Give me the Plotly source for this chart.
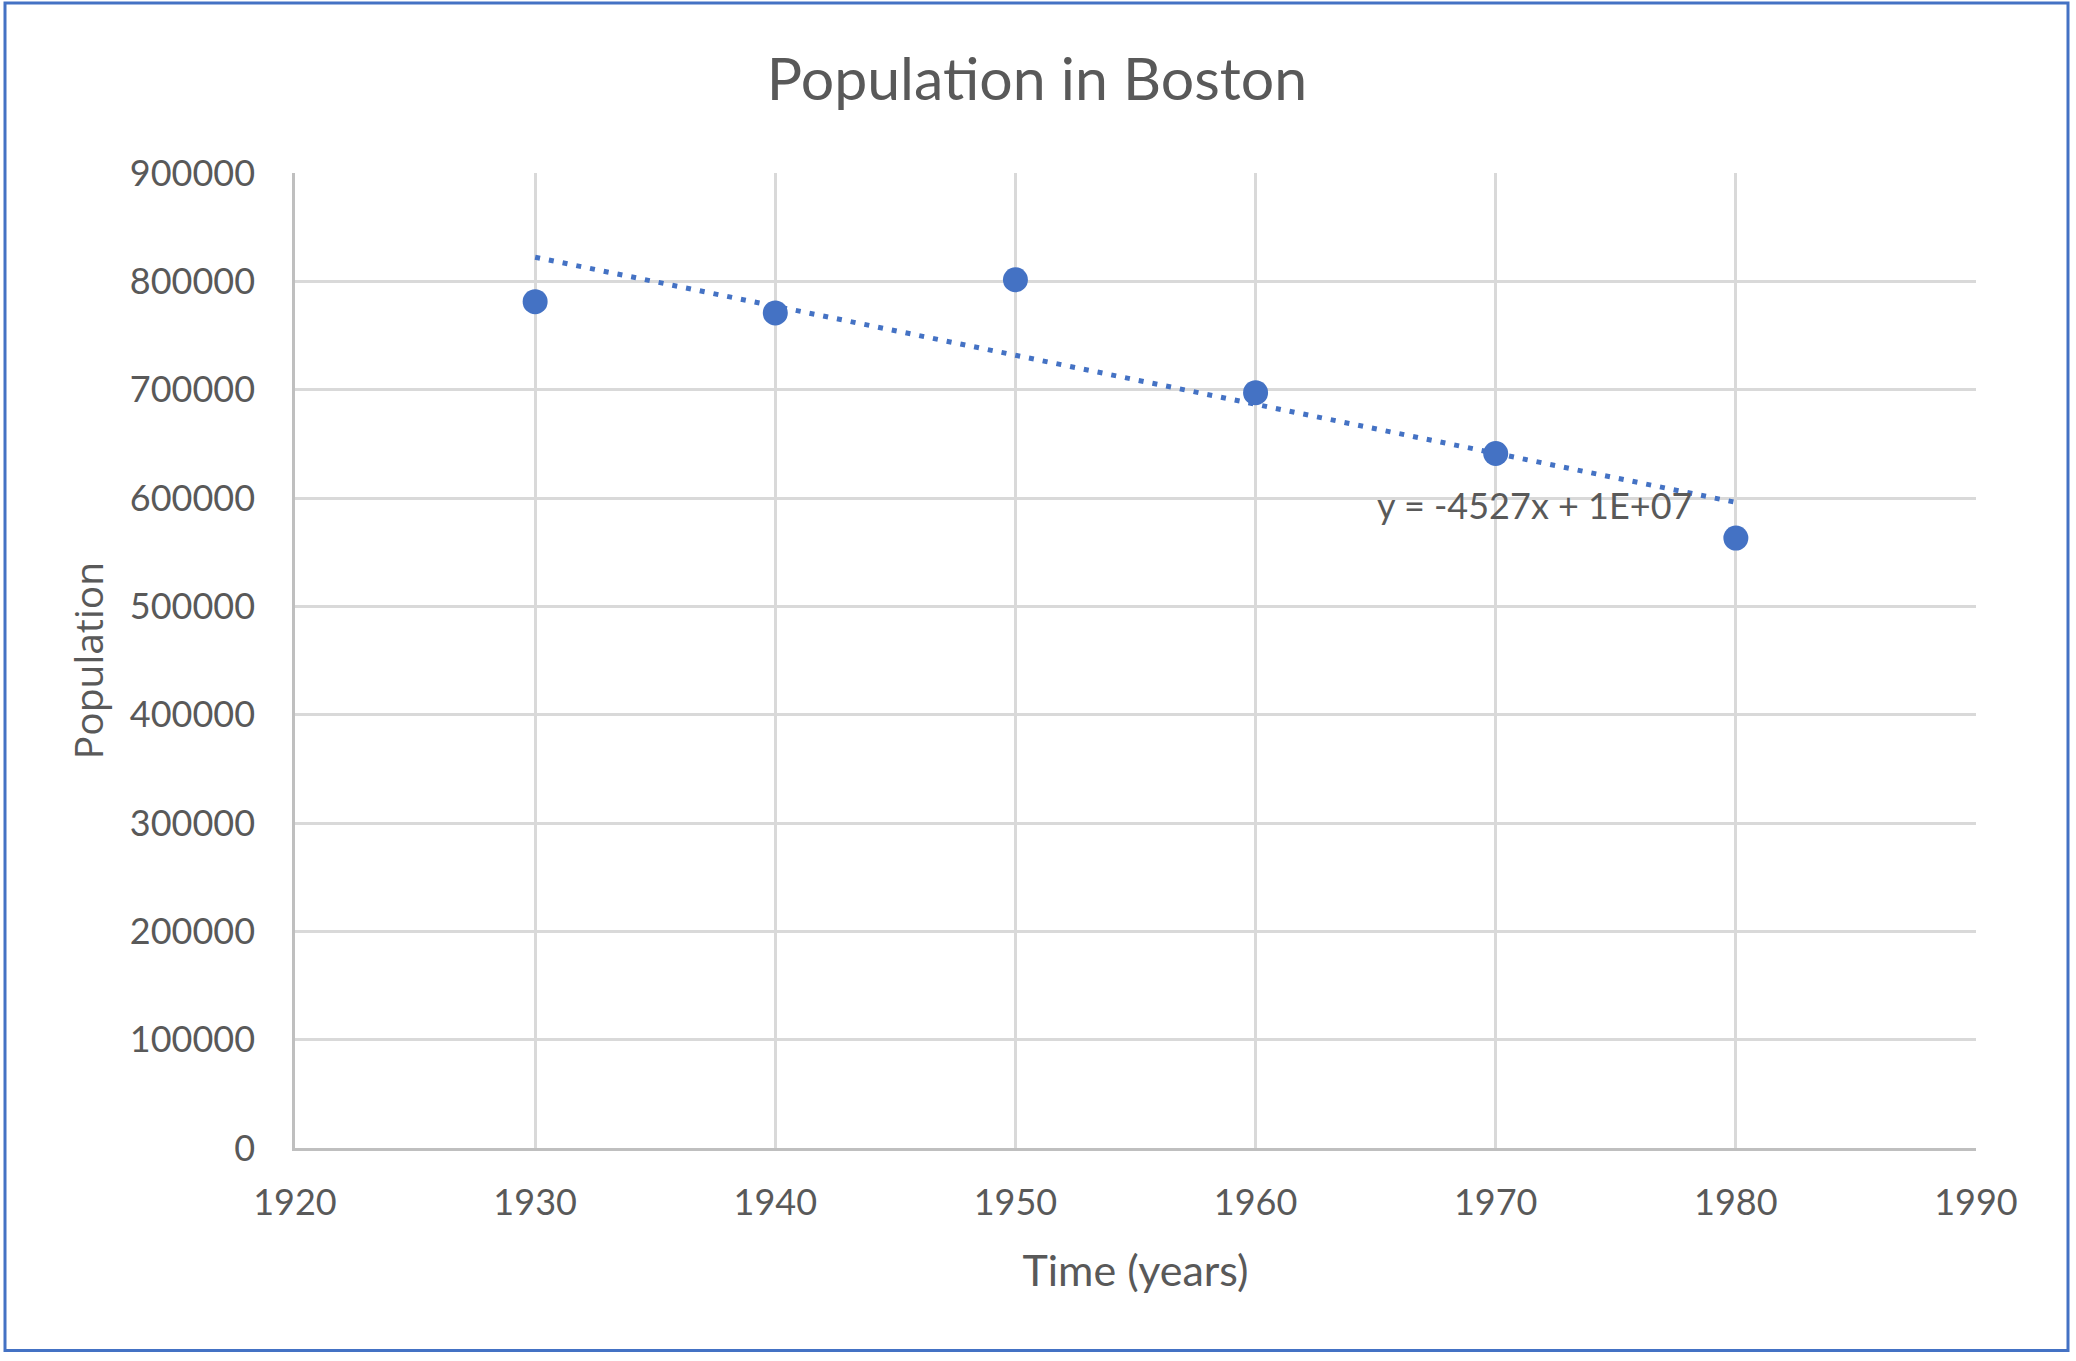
import numpy as np
import plotly.graph_objects as go

# ---- data ----
years = [1930, 1940, 1950, 1960, 1970, 1980]
population = [781188, 770816, 801444, 697197, 641071, 562994]
x_ticks = [1920, 1930, 1940, 1950, 1960, 1970, 1980, 1990]
y_ticks = [0, 100000, 200000, 300000, 400000, 500000, 600000, 700000, 800000, 900000]
title_text = "Population in Boston"
x_title = "Time (years)"
y_title = "Population"
equation_text = "y = -4527x + 1E+07"

# linear trendline fitted from the data
slope, intercept = np.polyfit(years, population, 1)
trend_x = [min(years), max(years)]
trend_y = [slope * v + intercept for v in trend_x]

# ---- layout constants (pixels) ----
W, H = 2076, 1361
L, R, T, B = 295, W - 1976, 172.5, H - 1148
pw, ph = W - L - R, H - T - B

BLUE = "#4472C4"
TXT = "#595959"
GRID = "#D9D9D9"
AXIS = "#BFBFBF"


def px_to_paper_x(px):
    return (px - L) / pw


def px_to_paper_y(py):
    return (H - B - py) / ph


fig = go.Figure()
fig.add_trace(go.Scatter(
    x=trend_x, y=trend_y, mode="lines",
    line=dict(color=BLUE, width=5, dash="5px,9px"),
    hoverinfo="skip", showlegend=False,
))
fig.add_trace(go.Scatter(
    x=years, y=population, mode="markers",
    marker=dict(color=BLUE, size=25, line=dict(width=0)),
    showlegend=False,
))

fig.add_annotation(
    x=1971.6, y=593800, xref="x", yref="y",
    text=equation_text, showarrow=False,
    font=dict(family="Lato", size=36, color=TXT),
    xanchor="center", yanchor="middle",
)

# outer border
fig.add_shape(
    type="rect", xref="paper", yref="paper",
    x0=px_to_paper_x(5), x1=px_to_paper_x(2068),
    y0=px_to_paper_y(1350.5), y1=px_to_paper_y(2.5),
    line=dict(color=BLUE, width=3), fillcolor="rgba(0,0,0,0)", layer="below",
)

fig.update_layout(
    width=W, height=H, autosize=False,
    margin=dict(l=L, r=R, t=T, b=B, pad=0),
    paper_bgcolor="white", plot_bgcolor="white",
    font=dict(family="Lato", color=TXT),
    title=dict(
        text=title_text, x=0.4995, xanchor="center",
        y=1 - 79 / H, yanchor="middle", yref="container",
        font=dict(family="Lato", size=59, color=TXT),
    ),
    showlegend=False,
)

fig.update_xaxes(
    range=[1920, 1990], tickmode="array", tickvals=x_ticks,
    ticktext=[str(v) for v in x_ticks],
    showgrid=True, gridcolor=GRID, gridwidth=2.5,
    showline=True, linecolor=AXIS, linewidth=2.5,
    zeroline=False, ticks="", ticklabelstandoff=21,
    tickfont=dict(family="Lato", size=36, color=TXT),
    title=dict(text=x_title, standoff=34,
               font=dict(family="Lato", size=43, color=TXT)),
)
fig.update_yaxes(
    range=[0, 900000], tickmode="array", tickvals=y_ticks,
    ticktext=[str(v) for v in y_ticks],
    showgrid=True, gridcolor=GRID, gridwidth=2.5,
    showline=True, linecolor=AXIS, linewidth=2.5,
    zeroline=False, ticks="", ticklabelstandoff=30,
    tickfont=dict(family="Lato", size=36, color=TXT),
    title=dict(text=y_title, standoff=15,
               font=dict(family="Open Sans", size=39, color=TXT)),
)

fig.write_html(
    "out.html",
    config={"displayModeBar": False},
    post_script="document.body.style.margin='0';document.body.style.overflow='hidden';",
)
